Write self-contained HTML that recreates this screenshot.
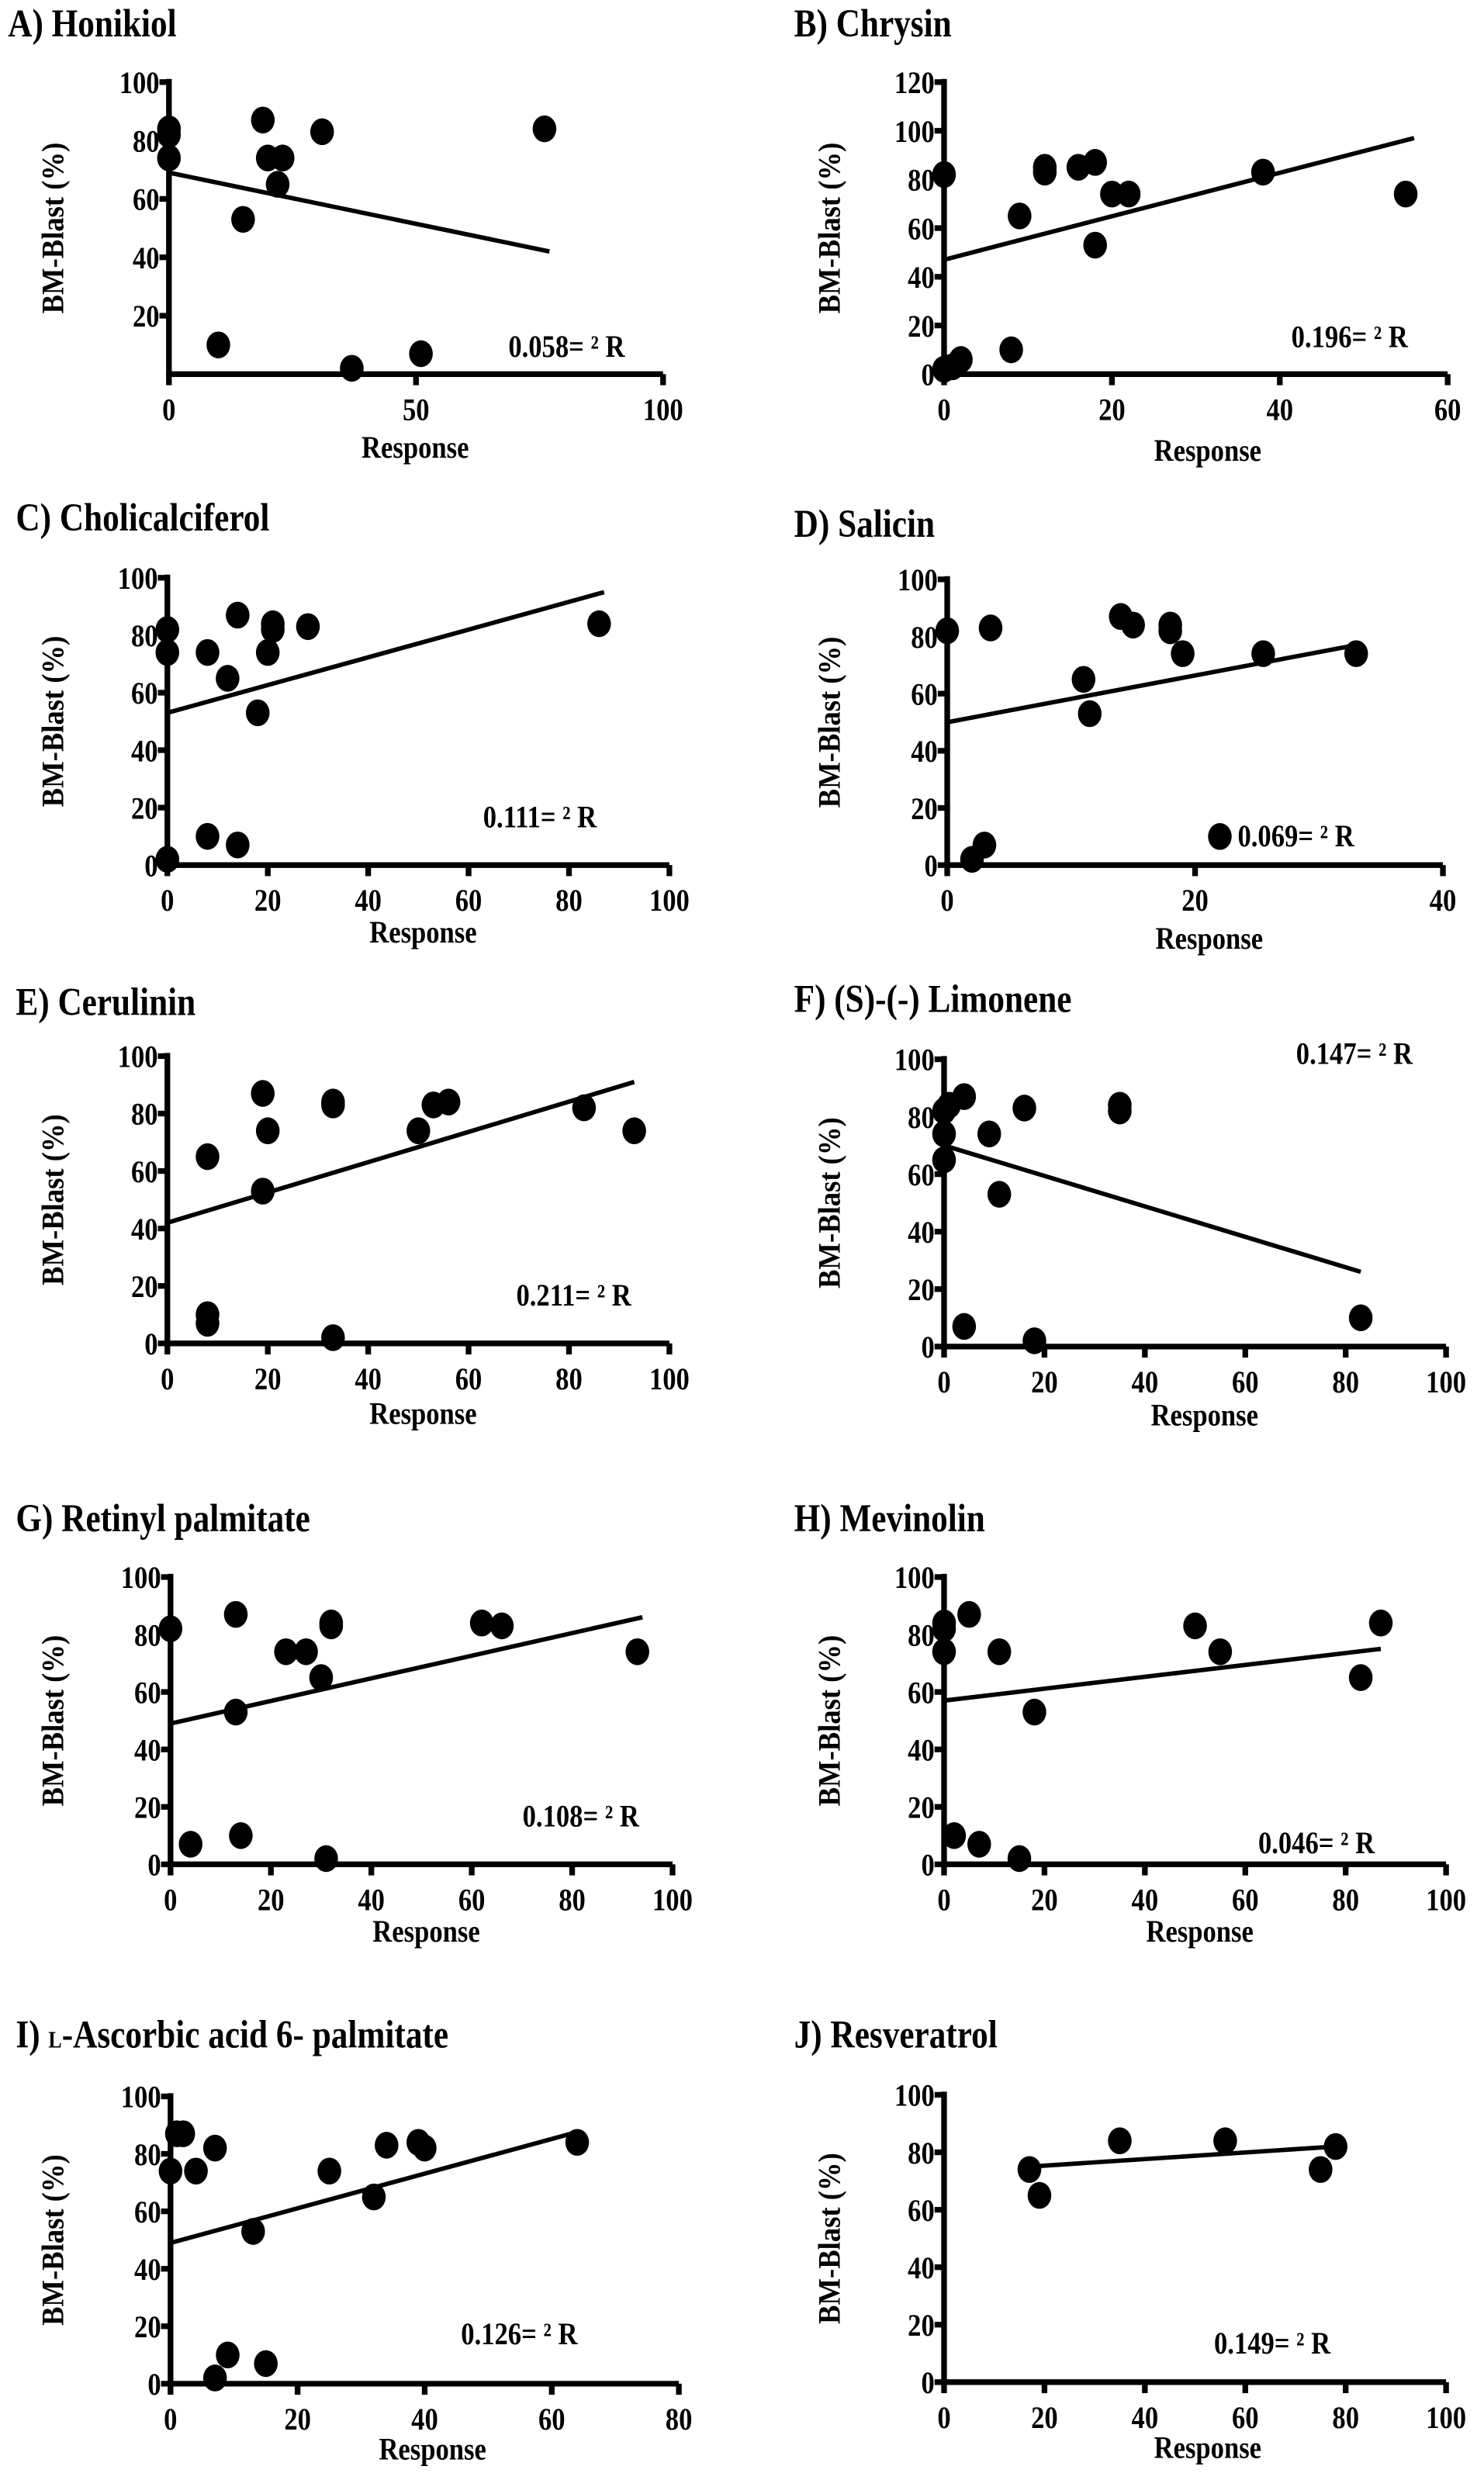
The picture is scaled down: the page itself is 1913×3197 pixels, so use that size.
<!DOCTYPE html>
<html><head><meta charset="utf-8"><style>
html,body{margin:0;padding:0;background:#fff;}
svg{display:block;}
text{font-family:"Liberation Serif",serif;font-weight:bold;fill:#000;}
</style></head>
<body>
<svg id="fig" width="1913" height="3197" viewBox="0 0 940 1571" xmlns="http://www.w3.org/2000/svg"></svg>
<script>
// Panel A - Honikiol
const aX=[0,0,0,10,15,19,20,23,22,31,37,51,76];
const aY=[84,82,74,10,53,87,74,74,65,83,2,7,84];
const aFit=[0,69,77,42];
// Panel B - Chrysin
const bX=[0,0,1,2,8,9,12,12,16,18,18,20,22,38,55];
const bY=[82,2,3,6,10,65,83,85,85,87,53,74,74,83,74];
const bFit=[0,47,56,97];
// Panel C - Cholicalciferol
const cX=[0,0,0,8,8,12,14,14,18,20,21,21,28,86];
const cY=[82,74,2,74,10,65,87,7,53,74,84,82,83,84];
const cFit=[0,53,87,95];
// Panel D - Salicin
const dX=[0,2,3,3.5,11,11.5,14,15,18,18,19,25.5,33,22];
const dY=[82,2,7,83,65,53,87,84,82,84,74,74,74,10];
const dFit=[0,50,33,77];
// Panel E - Cerulinin
const eX=[8,8,8,19,19,20,33,33,33,50,53,56,83,93];
const eY=[65,10,7,87,53,74,83,84,2,74,83,84,82,74];
const eFit=[0,42,93,91];
// Panel F - Limonene
const fX=[0,0,0,1,4,4,9,11,16,18,35,35,83];
const fY=[65,74,82,84,87,7,74,53,83,2,82,84,10];
const fFit=[0,70,83,26];
// Panel G - Retinyl palmitate
const gX=[0,4,13,13,14,23,27,30,31,32,32,62,66,93];
const gY=[82,7,87,53,10,74,74,65,2,83,84,84,83,74];
const gFit=[0,49,94,86];
// Panel H - Mevinolin
const hX=[0,0,0,2,5,7,11,15,18,50,55,83,87];
const hY=[74,82,84,10,87,7,74,2,53,83,74,65,84];
const hFit=[0,57,87,75];
// Panel I - L-Ascorbic acid 6-palmitate
const iX=[0,1,2,4,7,7,9,13,15,25,32,34,39,40,64];
const iY=[74,87,87,74,82,2,10,53,7,74,65,83,84,82,84];
const iFit=[0,49,63,87];
// Panel J - Resveratrol
const jX=[17,19,35,56,75,78];
const jY=[74,65,84,84,74,82];
const jFit=[17,75,78,82];

const xTicksA=[0,50,100], xTicks100=[0,20,40,60,80,100], xTicksB=[0,20,40,60], xTicksD=[0,20,40], xTicksI=[0,20,40,60,80];
const yTicksA=[20,40,60,80,100], yTicks100=[0,20,40,60,80,100], yTicksB=[0,20,40,60,80,100,120];
const r2Labels=["0.058","0.196","0.111","0.069","0.211","0.147","0.108","0.046","0.126","0.149"];

const panels=[
 {id:'a',title:'A) Honikiol',tx:5,ty:23,x0:107,x1:420,xmax:100,xt:xTicksA,yt:yTicksA,ymax:100,yTop:52,yBot:237,X:aX,Y:aY,fit:aFit,r2:r2Labels[0],rx:322,ry:226,respX:263,respY:290,ylx:40},
 {id:'b',title:'B) Chrysin',tx:503,ty:23,x0:598,x1:917,xmax:60,xt:xTicksB,yt:yTicksB,ymax:120,yTop:52,yBot:237,X:bX,Y:bY,fit:bFit,r2:r2Labels[1],rx:818,ry:220,respX:765,respY:292,ylx:532},
 {id:'c',title:'C) Cholicalciferol',tx:10,ty:336,x0:106,x1:424,xmax:100,xt:xTicks100,yt:yTicks100,ymax:100,yTop:366,yBot:548,X:cX,Y:cY,fit:cFit,r2:r2Labels[2],rx:306,ry:524,respX:268,respY:597,ylx:40},
 {id:'d',title:'D) Salicin',tx:503,ty:340,x0:600,x1:914,xmax:40,xt:xTicksD,yt:yTicks100,ymax:100,yTop:367,yBot:548,X:dX,Y:dY,fit:dFit,r2:r2Labels[3],rx:784,ry:536,respX:766,respY:601,ylx:532},
 {id:'e',title:'E) Cerulinin',tx:10,ty:643,x0:106,x1:424,xmax:100,xt:xTicks100,yt:yTicks100,ymax:100,yTop:669,yBot:851,X:eX,Y:eY,fit:eFit,r2:r2Labels[4],rx:327,ry:827,respX:268,respY:902,ylx:40},
 {id:'f',title:'F) (S)-(-) Limonene',tx:503,ty:641,x0:598,x1:916,xmax:100,xt:xTicks100,yt:yTicks100,ymax:100,yTop:671,yBot:853,X:fX,Y:fY,fit:fFit,r2:r2Labels[5],rx:821,ry:674,respX:763,respY:903,ylx:532},
 {id:'g',title:'G) Retinyl palmitate',tx:10,ty:970,x0:108,x1:426,xmax:100,xt:xTicks100,yt:yTicks100,ymax:100,yTop:999,yBot:1181,X:gX,Y:gY,fit:gFit,r2:r2Labels[6],rx:331,ry:1157,respX:270,respY:1230,ylx:40},
 {id:'h',title:'H) Mevinolin',tx:503,ty:970,x0:598,x1:916,xmax:100,xt:xTicks100,yt:yTicks100,ymax:100,yTop:999,yBot:1181,X:hX,Y:hY,fit:hFit,r2:r2Labels[7],rx:797,ry:1174,respX:760,respY:1230,ylx:532},
 {id:'i',title:'I)',tx:10,ty:1297,x0:108,x1:430,xmax:80,xt:xTicksI,yt:yTicks100,ymax:100,yTop:1328,yBot:1510,X:iX,Y:iY,fit:iFit,r2:r2Labels[8],rx:292,ry:1485,respX:274,respY:1558,ylx:40},
 {id:'j',title:'J) Resveratrol',tx:503,ty:1297,x0:598,x1:916,xmax:100,xt:xTicks100,yt:yTicks100,ymax:100,yTop:1327,yBot:1509,X:jX,Y:jY,fit:jFit,r2:r2Labels[9],rx:769,ry:1491,respX:765,respY:1557,ylx:532}
];
const NS='http://www.w3.org/2000/svg';
const svg=document.getElementById('fig');
function mk(tag,attrs,parent){const e=document.createElementNS(NS,tag);for(const k in attrs)e.setAttribute(k,attrs[k]);(parent||svg).appendChild(e);return e;}
function txt(parent,x,y,s,size,anchor,sx){const t=mk('text',{transform:`translate(${x},${y}) scale(${sx||0.85},1)`,'font-size':size,'text-anchor':anchor||'start'},parent);t.textContent=s;return t;}

panels.forEach(p=>{
  const g=mk('g',{});
  
  
  const xs=v=>p.x0+(p.x1-p.x0)*v/p.xmax;
  const ys=v=>p.yBot-(p.yBot-p.yTop)*v/p.ymax;
  // title
  let t;
  if(p.id==='i'){
    t=mk('text',{transform:`translate(${p.tx},${p.ty}) scale(0.85,1)`,'font-size':25},g);
    const s1=mk('tspan',{},t);s1.textContent='I)  ';
    const s2=mk('tspan',{'font-size':15},t);s2.textContent='L';
    const s3=mk('tspan',{},t);s3.textContent='-Ascorbic acid 6- palmitate';
  } else t=txt(g,p.tx,p.ty,p.title,25,'start');
  
  
  // axes
  const ax=mk('path',{d:`M${p.x0},${p.yTop-2} V${p.yBot} H${p.x1}`,stroke:'#000','stroke-width':3.6,fill:'none'},g);
  
  
  p.yt.forEach(v=>{
    const y=ys(v);
    const tk=mk('line',{x1:p.x0-6,x2:p.x0,y1:y,y2:y,stroke:'#000','stroke-width':3.6},g);
    
    
    const l=txt(g,p.x0-6,y+7,String(v),20,'end');
    
    
  });
  p.xt.forEach(v=>{
    const x=xs(v);
    const tk=mk('line',{x1:x,x2:x,y1:p.yBot,y2:p.yBot+7,stroke:'#000','stroke-width':3.6},g);
    
    
    const l=txt(g,x,p.yBot+29,String(v),20,'middle');
    
    
  });
  // axis titles
  const yl=mk('text',{transform:`translate(${p.ylx},${(p.yTop+p.yBot)/2}) rotate(-90) scale(0.9,1)`,'font-size':20,'text-anchor':'middle'},g);
  yl.textContent='BM-Blast (%)';
  
  
  const xl=txt(g,p.respX,p.respY,'Response',20,'middle');
  
  
  // fit line
  const fl=mk('line',{x1:xs(p.fit[0]),y1:ys(p.fit[1]),x2:xs(p.fit[2]),y2:ys(p.fit[3]),stroke:'#000','stroke-width':2.8},g);
  
  
  // points
  p.X.forEach((v,k)=>{
    const d=mk('ellipse',{cx:xs(v),cy:ys(p.Y[k]),rx:7.5,ry:8.5,fill:'#000'},g);
    
    
  });
  const r=txt(g,p.rx,p.ry,p.r2+'= ² R',20,'start');
  
  
});
</script>
</body></html>
